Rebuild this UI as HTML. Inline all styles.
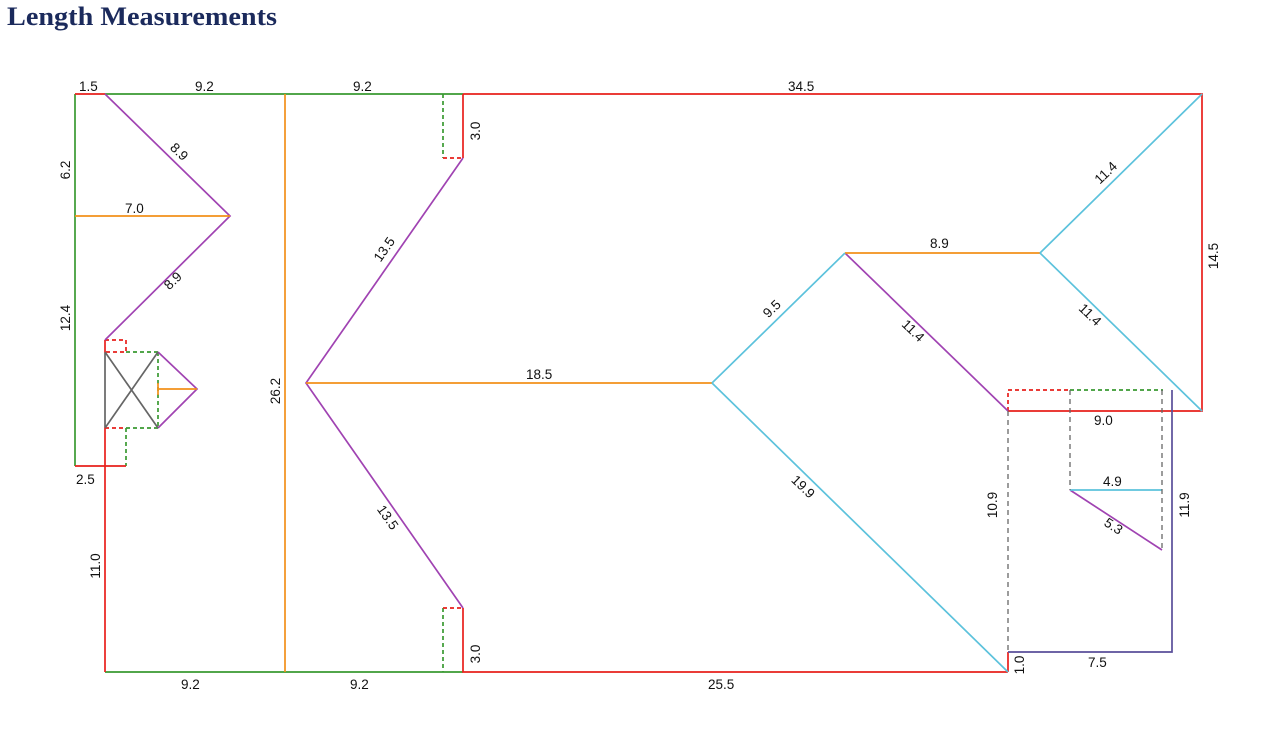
<!DOCTYPE html>
<html><head><meta charset="utf-8"><style>
html,body{margin:0;padding:0;background:#fff;width:1269px;height:736px;overflow:hidden}
svg{display:block}
text{font-family:"Liberation Sans",sans-serif;font-size:13.5px;fill:#111}
.t{font-family:"Liberation Serif",serif;font-size:26px;font-weight:bold;fill:#1b2a5c}
</style></head><body>
<svg width="1269" height="736" viewBox="0 0 1269 736">
<text class="t" x="7" y="25" textLength="270" lengthAdjust="spacingAndGlyphs">Length Measurements</text>
<g fill="none" stroke-width="1.7">
<g stroke="#3a9a32">
<path d="M105 94H463M75 94V466M105 672H463"/>
<path d="M126 352H158M126 428H158M158 352V428M126 428V466M443 94V158M443 608V672M1070 390H1163" stroke-dasharray="4 3"/>
</g>
<g stroke="#e8201c">
<path d="M75 94H105M463 94H1202V411H1008M75 466H126M105 340V353M105 427V672M463 94V158M463 608V672H1008M1008 652V672"/>
<path d="M105 340H126V352H105M105 428H126M443 158H463M443 608H463M1008 411V390H1070" stroke-dasharray="4 3"/>
</g>
<g stroke="#a043b2">
<path d="M105 94L230 216L105 340M158 352L197 389L158 428M463 158L306 383L463 608M845 253L1008 411M1070 490L1162 550"/>
</g>
<g stroke="#f2901a">
<path d="M75 216H230M158 389H197M158 383V395M285 94V672M306 383H712M845 253H1040"/>
</g>
<g stroke="#5cc2dc">
<path d="M712 383L845 253M712 383L1008 672M1040 253L1202 94M1040 253L1202 411M1070 490H1162"/>
</g>
<g stroke="#666">
<path d="M105 353V427M105 352L158 428M105 428L158 352"/>
<path d="M1008 411V652M1070 390V490M1162 390V550" stroke-dasharray="5 4" stroke-width="1.3"/>
</g>
<path d="M1008 652H1172V390" stroke="#5a4f9a"/>
</g>
<text x="79" y="91">1.5</text>
<text x="195" y="91">9.2</text>
<text x="353" y="91">9.2</text>
<text x="788" y="91">34.5</text>
<text x="125" y="213">7.0</text>
<text x="526" y="379">18.5</text>
<text x="930" y="248">8.9</text>
<text x="1094" y="425">9.0</text>
<text x="1103" y="486">4.9</text>
<text x="76" y="484">2.5</text>
<text x="181" y="689">9.2</text>
<text x="350" y="689">9.2</text>
<text x="708" y="689">25.5</text>
<text x="1088" y="667">7.5</text>
<text transform="translate(70 170) rotate(-90)" text-anchor="middle">6.2</text>
<text transform="translate(70 318) rotate(-90)" text-anchor="middle">12.4</text>
<text transform="translate(100 566) rotate(-90)" text-anchor="middle">11.0</text>
<text transform="translate(280 391) rotate(-90)" text-anchor="middle">26.2</text>
<text transform="translate(480 131) rotate(-90)" text-anchor="middle">3.0</text>
<text transform="translate(480 654) rotate(-90)" text-anchor="middle">3.0</text>
<text transform="translate(1218 256) rotate(-90)" text-anchor="middle">14.5</text>
<text transform="translate(997 505) rotate(-90)" text-anchor="middle">10.9</text>
<text transform="translate(1189 505) rotate(-90)" text-anchor="middle">11.9</text>
<text transform="translate(1024 665) rotate(-90)" text-anchor="middle">1.0</text>
<text transform="translate(176 155) rotate(44)" text-anchor="middle">8.9</text>
<text transform="translate(176 284) rotate(-44)" text-anchor="middle">8.9</text>
<text transform="translate(388 252) rotate(-55)" text-anchor="middle">13.5</text>
<text transform="translate(384 520) rotate(55)" text-anchor="middle">13.5</text>
<text transform="translate(775 312) rotate(-44)" text-anchor="middle">9.5</text>
<text transform="translate(910 334) rotate(44)" text-anchor="middle">11.4</text>
<text transform="translate(1109 176) rotate(-44)" text-anchor="middle">11.4</text>
<text transform="translate(1087 318) rotate(44)" text-anchor="middle">11.4</text>
<text transform="translate(800 490) rotate(44)" text-anchor="middle">19.9</text>
<text transform="translate(1111 530) rotate(33)" text-anchor="middle">5.3</text>
</svg>
</body></html>
